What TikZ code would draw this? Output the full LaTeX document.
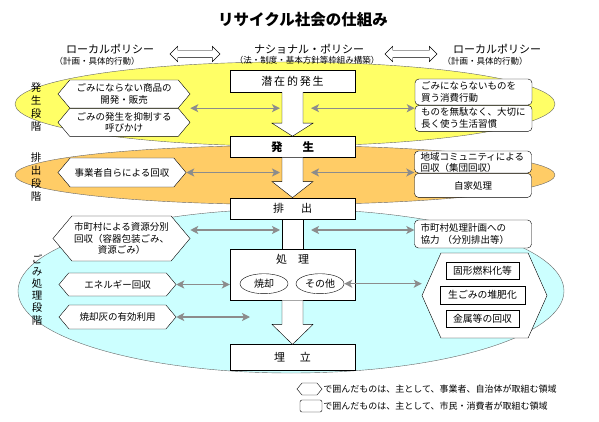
\documentclass[tikz,border=0pt]{standalone}
\usepackage{fontspec}
\setmainfont{Noto Sans CJK JP}
\usetikzlibrary{positioning}
\usetikzlibrary{arrows.meta}
\usetikzlibrary{backgrounds}
\usetikzlibrary{calc}
\usetikzlibrary{shapes.symbols}
\usetikzlibrary{shapes.arrows}
\usetikzlibrary{shapes.geometric}

\definecolor{gen_yellow}{HTML}{FFFF66}
\definecolor{disch_orange}{HTML}{FFCC66}
\definecolor{proc_cyan}{HTML}{CCFFFF}
\definecolor{link_gray}{HTML}{8C8C8C}

% block arrow of the main column: from node, to node, head length
\newcommand{\flowarrow}[3]{%
    \draw[fill=white] ($(#1.south)+(-10.5,0)$) -- ($(#2.north)+(-10.5,-#3)$) -- ($(#2.north)+(-20.5,-#3)$) -- (#2.north) -- ($(#2.north)+(20.5,-#3)$) -- ($(#2.north)+(10.5,-#3)$) -- ($(#1.south)+(10.5,0)$);
}

\begin{document}
\begin{tikzpicture}[x=1pt, y=-1pt]
            \tikzstyle{flow_node}=[rectangle, draw, fill=white, minimum width=125pt, inner sep=0pt, font=\fontsize{11}{13}\selectfont];
            \tikzstyle{biz_node}=[signal, signal to=west and east, signal pointer angle=100, draw, fill=white, align=center, inner sep=1pt, font=\fontsize{9.5}{11.8}\selectfont];
            \tikzstyle{citizen_node}=[rectangle, rounded corners=4pt, draw, fill=white, align=left, text width=105pt, inner xsep=6pt, inner ysep=0.5pt, font=\fontsize{9.5}{12}\selectfont];
            \tikzstyle{plant_node}=[rectangle, draw, fill=white, minimum height=17pt, inner sep=1pt, font=\fontsize{9.8}{11}\selectfont];
            \tikzstyle{stage}=[align=center, inner sep=0pt];
            \tikzstyle{head}=[inner sep=0pt, font=\fontsize{11}{13}\selectfont];
            \tikzstyle{head_sub}=[inner sep=0pt, font=\fontsize{8.5}{10}\selectfont];
            \tikzstyle{link}=[double arrow, draw, fill=white, double arrow head extend=4pt, inner xsep=0pt, inner ysep=3.5pt];
            \tikzstyle{legend}=[inner sep=0pt, font=\fontsize{9}{11}\selectfont];

            \useasboundingbox (0,0) rectangle (599,422);

            % Title and policies
            \node(title) at (303,20) [font=\bfseries\fontsize{15.5}{18}\selectfont] {リサイクル社会の仕組み};
            \node(local_l) at (110,49) [head] {ローカルポリシー};
            \node(local_l_sub) at (97,61) [head_sub] {（計画・具体的行動）};
            \node(national) at (309,49) [head] {ナショナル・ポリシー};
            \node(national_sub) at (307,60) [head_sub] {（法・制度・基本方針等枠組み構築）};
            \node(local_r) at (497,49) [head] {ローカルポリシー};
            \node(local_r_sub) at (485,61) [head_sub] {（計画・具体的行動）};
            \node(link_l) at (195,54) [link, minimum height=50pt] {};
            \node(link_r) at (411,54) [link, minimum height=52pt] {};

            % Main column
            \node(latent) at (292.5,81) [flow_node, minimum height=22pt] {潜\,在\,的\,発\,生};
            \node(gen) [flow_node, minimum height=21pt, below = 44pt of latent, font=\bfseries\fontsize{11.5}{13}\selectfont] {発\hspace{20pt}生};
            \node(disch) [flow_node, minimum height=21pt, below = 40pt of gen] {排\hspace{17pt}出};
            \node(proc) [flow_node, minimum height=51pt, below = 30pt of disch] {};
            \node(proc_label) [below = 2pt of proc.north, font=\fontsize{11}{13}\selectfont] {処\hspace{11pt}理};
            \node(incin) at ($(proc.center)+(-28.5,9)$) [ellipse, draw, minimum width=48pt, minimum height=20pt, inner sep=0pt, font=\fontsize{10}{12}\selectfont] {焼却};
            \node(other) at ($(proc.center)+(27.5,9)$) [ellipse, draw, minimum width=48pt, minimum height=20pt, inner sep=0pt, font=\fontsize{10}{12}\selectfont] {その他};
            \node(landfill) [flow_node, minimum height=26pt, below = 44pt of proc] {埋\hspace{15pt}立};

            \flowarrow{latent}{gen}{13}
            \flowarrow{gen}{disch}{16}
            \draw[fill=white] ($(disch.south)+(-10.5,0)$) rectangle ($(proc.north)+(10.5,0)$);
            \flowarrow{proc}{landfill}{20}

            % Stage labels
            \node(stage_gen) at (36,107) [stage, font=\fontsize{10.5}{12.7}\selectfont] {発\\生\\段\\階};
            \node(stage_disch) at (36,177) [stage, font=\fontsize{10.5}{13.3}\selectfont] {排\\出\\段\\階};
            \node(stage_proc) at (37,289.5) [stage, font=\fontsize{10.5}{12.2}\selectfont] {ご\\み\\処\\理\\段\\階};

            % Business and municipality side
            \node(goods) at (124,94) [biz_node, minimum width=132pt, minimum height=28pt] {ごみにならない商品の\\開発・販売};
            \node(appeal) [biz_node, minimum width=132pt, minimum height=28pt, below = 0pt of goods] {ごみの発生を抑制する\\呼びかけ};
            \node(bizcol) at (122,172.5) [biz_node, minimum width=128pt, minimum height=29pt] {事業者自らによる回収};
            \node(munisort) at (121.5,238.5) [biz_node, minimum width=137pt, minimum height=45pt, font=\fontsize{9.5}{11.3}\selectfont] {市町村による資源分別\\回収（容器包装ごみ、\\資源ごみ）};
            \node(energy) at (117.5,284.5) [biz_node, minimum width=117pt, minimum height=23pt] {エネルギー回収};
            \node(ash) at (117.5,317) [biz_node, minimum width=117pt, minimum height=24pt] {焼却灰の有効利用};

            % Citizen side
            \node(consumer) at (473.5,92) [citizen_node, minimum height=26pt] {ごみにならないものを\\買う消費行動};
            \node(lifestyle) [citizen_node, minimum height=26pt, below = 0pt of consumer] {ものを無駄なく、大切に\\長く使う生活習慣};
            \node(community) at (473,162) [citizen_node, minimum height=22pt, font=\fontsize{9.5}{11}\selectfont] {地域コミュニティによる\\回収（集団回収）};
            \node(selfdisp) [citizen_node, minimum height=24pt, below = 0pt of community, align=center] {自家処理};
            \node(municoop) at (473,234) [citizen_node, minimum height=28pt] {市町村処理計画への\\協力 （分別排出等）};

            % Treatment plants
            \node(treat) at (484.5,295.5) [signal, signal to=west and east, signal pointer angle=132, draw, fill=white, minimum width=125pt, minimum height=85pt] {};
            \node(compost) at (482.5,295) [plant_node, minimum width=85pt, minimum height=18pt] {生ごみの堆肥化};
            \node(solid) [plant_node, minimum width=73pt, above = 6pt of compost] {固形燃料化等};
            \node(metal) [plant_node, minimum width=73pt, below = 6pt of compost] {金属等の回収};

            % Background stages
            \scoped[on background layer]    {
                \filldraw[fill=gen_yellow, draw=black!60, line width=0.4pt] (285,104) ellipse [x radius=270pt, y radius=42pt];
                \filldraw[fill=disch_orange, draw=black!60, line width=0.4pt] (285,175) ellipse [x radius=270pt, y radius=29.5pt];
                \filldraw[fill=proc_cyan, draw=black!60, line width=0.4pt] (291,291) ellipse [x radius=273pt, y radius=82pt];
            }

            % Links
            \tikzstyle{arrow}=[{Stealth[length=8pt, width=8pt, inset=2pt]}-{Stealth[length=8pt, width=8pt, inset=2pt]}, draw=link_gray, fill=link_gray, line width=1.3pt];
            \coordinate(col_w) at (280,0);
            \coordinate(col_e) at (311,0);
            \coordinate(sort_row) at (0,230);
            \coordinate(ash_end) at (250,0);
            \draw[arrow] (goods.south -| goods.east) -- (goods.south -| col_w);
            \draw[arrow] (goods.south -| col_e) -- (goods.south -| consumer.west);
            \draw[arrow] (bizcol.east) -- (bizcol.east -| col_w);
            \draw[arrow] (bizcol.east -| col_e) -- (bizcol.east -| community.west);
            \draw[arrow] (munisort.east |- sort_row) -- (col_w |- sort_row);
            \draw[arrow] (col_e |- sort_row) -- (municoop.west |- sort_row);
            \draw[arrow] (energy.east) -- (energy.east -| proc.west);
            \draw[arrow] (other.east) -- (other.east -| treat.west);
            \draw[arrow] (ash.east) -- (ash.east -| ash_end);

            % Legend
            \node(legend_hex) at (309.5,389) [signal, signal to=west and east, signal pointer angle=100, draw, minimum width=25pt, minimum height=12pt, inner sep=0pt] {};
            \node(legend_hex_text) [legend, right = 1pt of legend_hex] {で囲んだものは、主として、事業者、自治体が取組む領域};
            \node(legend_box) at (311,406) [rectangle, rounded corners=2pt, draw, minimum width=22pt, minimum height=12pt, inner sep=0pt] {};
            \node(legend_box_text) [legend, right = 1pt of legend_box] {で囲んだものは、主として、市民・消費者が取組む領域};
\end{tikzpicture}
\end{document}
